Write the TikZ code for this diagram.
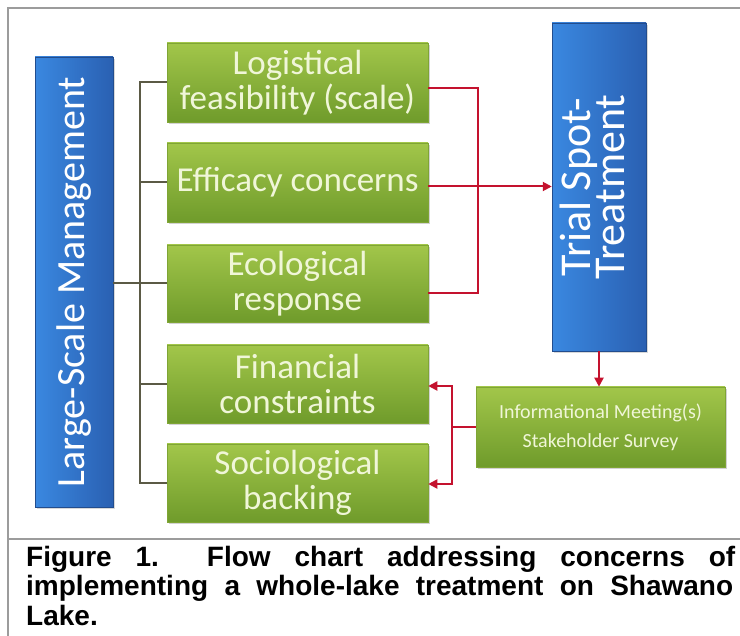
\documentclass[tikz,border=0pt]{standalone}
\usepackage{fontspec}
\setmainfont{Carlito}
\newfontfamily\capfont{Liberation Sans}
\usetikzlibrary{arrows.meta,shadows,calc}
\definecolor{gtop}{HTML}{A2C64A}
\definecolor{gbot}{HTML}{6F9B2B}
\definecolor{gedge}{HTML}{7FA535}
\definecolor{gtext}{HTML}{F0F6D8}
\definecolor{bleft}{HTML}{3A88E0}
\definecolor{bright}{HTML}{2A60B2}
\definecolor{bracketc}{HTML}{5B5A45}
\definecolor{redc}{HTML}{C4122E}
\definecolor{framec}{HTML}{9C9C9C}
\begin{document}
\begin{tikzpicture}[x=1pt,y=-1pt,
  greenbox/.style={rectangle, minimum width=261pt, inner sep=0pt,
    top color=gtop, bottom color=gbot, draw=gedge, line width=0.6pt,
    text=gtext, align=center,
    font=\fontsize{35}{35}\selectfont,
    drop shadow={shadow xshift=1.5pt, shadow yshift=-2.5pt, opacity=0.35}},
  bluebox/.style={rectangle, inner sep=0pt, left color=bleft, right color=bright,
    draw=bright!80!black, line width=0.5pt, text=white, align=center,
    drop shadow={shadow xshift=1.5pt, shadow yshift=-2pt, opacity=0.3}},
  bracketline/.style={draw=bracketc, line width=2pt},
  redline/.style={draw=redc, line width=2pt},
  redarrow/.style={redline, -{Triangle[length=9pt,width=9pt]}},
  frameline/.style={draw=framec, line width=2.5pt},
  captext/.style={anchor=base west, inner sep=0pt, text=black,
    font=\capfont\bfseries\fontsize{28}{28}\selectfont}
]
\useasboundingbox (0,0) rectangle (740,636);
\fill[white] (0,0) rectangle (740,636);
% frame
\draw[frameline] (740,8) -- (8,8) -- (8,636);
\draw[frameline] (8,539) -- (740,539);

% blue boxes
\node[bluebox, minimum width=78pt, minimum height=450pt] (LSM) at (74,282)
  {\rotatebox{90}{\fontsize{40}{40}\selectfont Large-Scale Management}};
\node[bluebox, minimum width=94pt, minimum height=328pt] (Trial) at (599,187)
  {\rotatebox{90}{\fontsize{44}{42}\selectfont\begin{tabular}{@{}c@{}}Trial Spot-\\[-8pt]Treatment\end{tabular}}};

% green boxes
\node[greenbox, minimum height=79pt] (G1) at (297.5,82.5) {Logistical\\feasibility (scale)};
\node[greenbox, minimum height=79pt] (G2) at (297.5,182.5) {Efficacy concerns};
\node[greenbox, minimum height=77pt] (G3) at (297.5,283.5) {Ecological\\response};
\node[greenbox, minimum height=78pt] (G4) at (297.5,384) {Financial\\constraints};
\node[greenbox, minimum height=78pt] (G5) at (297.5,483) {Sociological\\backing};
\node[greenbox, minimum width=249pt, minimum height=80pt,
  font=\fontsize{20}{29}\selectfont] (Info) at (600.5,427)
  {Informational Meeting(s)\\Stakeholder Survey};

% bracket connectors
\coordinate (bk) at (140,0);
\draw[bracketline] (G1.west) -- (G1.west -| bk) -- (G5.west -| bk) -- (G5.west);
\draw[bracketline] (G2.west) -- (G2.west -| bk);
\draw[bracketline] (G4.west) -- (G4.west -| bk);
\draw[bracketline] (LSM.east |- G3.west) -- (G3.west);

% red connectors
\coordinate (rx) at (478,0);
\coordinate (r1) at ([yshift=-6pt]G1.east);
\coordinate (r2) at ([yshift=-4pt]G2.east);
\coordinate (r3) at ([yshift=-10pt]G3.east);
\draw[redline] (r1) -- (r1 -| rx) -- (r3 -| rx) -- (r3);
\draw[redarrow] (r2) -- (r2 -| Trial.west);
\draw[redarrow] (Trial.south) -- (Trial.south |- Info.north);
\coordinate (lx) at (452,0);
\draw[redline] (Info.west) -- (Info.west -| lx);
\draw[redarrow] (Info.west -| lx) |- ([yshift=-2pt]G4.east);
\draw[redarrow] (Info.west -| lx) |- ([yshift=-1pt]G5.east);

% caption
\node[captext] (cap1) at (26,567) {\makebox[709pt][s]{Figure 1.\ \ Flow chart addressing concerns of}};
\node[captext] (cap2) at (26,596) {\makebox[707pt][s]{implementing a whole-lake treatment on Shawano}};
\node[captext] (cap3) at (26,625) {Lake.};
\end{tikzpicture}
\end{document}
